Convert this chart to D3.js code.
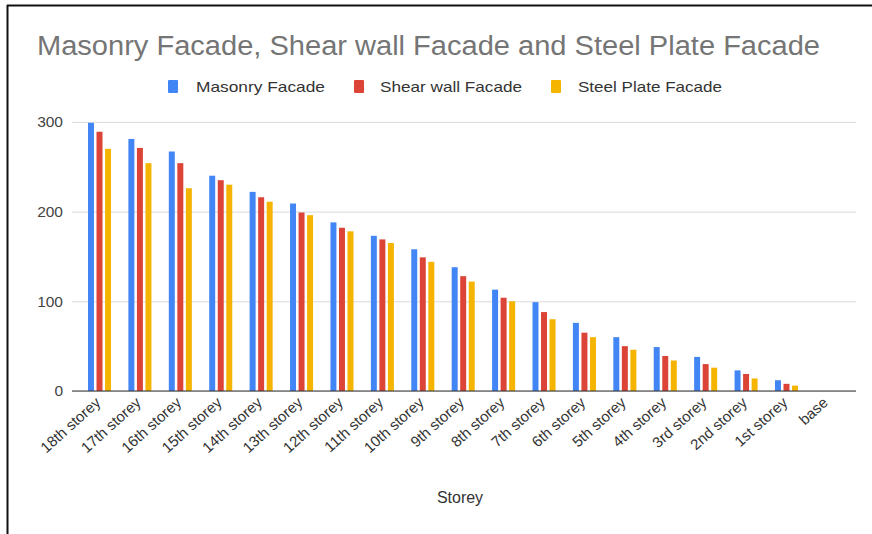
<!DOCTYPE html>
<html>
<head>
<meta charset="utf-8">
<script src="https://cdn.jsdelivr.net/npm/d3@7"></script>
<style>
  html, body { margin: 0; padding: 0; background: #fff; }
  svg { display: block; font-family: "Liberation Sans", Arial, sans-serif; }
</style>
</head>
<body>
<script>
// Storey labels, top floor first
const categories = ["18th storey","17th storey","16th storey","15th storey","14th storey","13th storey",
  "12th storey","11th storey","10th storey","9th storey","8th storey","7th storey","6th storey",
  "5th storey","4th storey","3rd storey","2nd storey","1st storey","base"];

const seriesNames = ["Masonry Facade", "Shear wall Facade", "Steel Plate Facade"];
const seriesColors = ["#4285F4", "#DB4437", "#F4B400"];

const masonry   = [299, 281, 267, 240, 222, 209, 188, 173, 158, 138, 113, 99, 76, 60, 49, 38, 23, 12, 0];
const shearWall = [289, 271, 254, 235, 216, 199, 182, 169, 149, 128, 104, 88, 65, 50, 39, 30, 19, 8, 0];
const steelPlate= [270, 254, 226, 230, 211, 196, 178, 165, 144, 122, 100, 80, 60, 46, 34, 26, 14, 6, 0];

const yTicks = [0, 100, 200, 300];

const FONT = "'Liberation Sans', Arial, sans-serif";
const W = 872, H = 534;
const svg = d3.select("body").append("svg").attr("width", W).attr("height", H);

// outer frame (top and left edges)
svg.append("line").attr("x1", 7).attr("x2", W).attr("y1", 5.5).attr("y2", 5.5)
  .attr("stroke", "#111").attr("stroke-width", 2);
svg.append("line").attr("x1", 7.5).attr("x2", 7.5).attr("y1", 5).attr("y2", H)
  .attr("stroke", "#111").attr("stroke-width", 2);

// title
svg.append("text").attr("x", 37).attr("y", 55)
  .attr("fill", "#757575").attr("font-size", 27)
  .attr("textLength", 783).attr("lengthAdjust", "spacingAndGlyphs")
  .text("Masonry Facade, Shear wall Facade and Steel Plate Facade");

// legend
const legendItems = [
  { x: 168, tx: 196, tl: 129 },
  { x: 354, tx: 380, tl: 142 },
  { x: 551, tx: 578, tl: 144 }
];
legendItems.forEach((d, i) => {
  svg.append("rect").attr("x", d.x).attr("y", 80).attr("width", 10).attr("height", 13)
    .attr("rx", 1).attr("fill", seriesColors[i]);
  svg.append("text").attr("x", d.tx).attr("y", 92).attr("font-size", 15)
    .attr("textLength", d.tl).attr("lengthAdjust", "spacingAndGlyphs")
    .attr("fill", "#333").text(seriesNames[i]);
});

// scales
const plotLeft = 72, plotRight = 856;
const y = d3.scaleLinear().domain([0, 300]).range([391, 121.9]);
const x = d3.scaleBand().domain(categories).range([79.3, 847.1])
  .paddingInner(0.43).paddingOuter(0.215);
const xSub = d3.scaleBand().domain(d3.range(3)).range([0, x.bandwidth()]).paddingInner(0.3);

// grid lines
const yAxis = d3.axisLeft(y).tickValues(yTicks).tickSize(-(plotRight - plotLeft)).tickPadding(9);
const gy = svg.append("g").attr("transform", `translate(${plotLeft},0)`).call(yAxis);
gy.select(".domain").remove();
gy.selectAll(".tick line").attr("stroke", "#d9d9d9");
gy.selectAll(".tick text").attr("fill", "#444").attr("font-size", 15.5)
  .attr("font-family", FONT);

// bars
const data = categories.map((c, i) => ({ c, v: [masonry[i], shearWall[i], steelPlate[i]] }));
const groups = svg.append("g").selectAll("g").data(data).join("g")
  .attr("transform", d => `translate(${x(d.c)},0)`);
groups.selectAll("rect").data(d => d.v.map((v, k) => ({ v, k }))).join("rect")
  .attr("x", d => xSub(d.k))
  .attr("width", xSub.bandwidth())
  .attr("y", d => y(d.v))
  .attr("height", d => y(0) - y(d.v))
  .attr("fill", d => seriesColors[d.k]);

// baseline
svg.append("line").attr("x1", plotLeft).attr("x2", plotRight)
  .attr("y1", y(0)).attr("y2", y(0)).attr("stroke", "#333").attr("stroke-width", 1.2);

// x axis labels, slanted
const xAxis = d3.axisBottom(x).tickSize(0).tickPadding(0);
const gx = svg.append("g").attr("transform", `translate(0,${y(0)})`).call(xAxis);
gx.select(".domain").remove();
gx.selectAll(".tick text")
  .attr("font-size", 15).attr("fill", "#333")
  .attr("font-family", FONT)
  .attr("text-anchor", "end")
  .attr("y", 0)
  .attr("dy", null)
  .attr("transform", "translate(2,13) rotate(-42)");

// axis title
svg.append("text").attr("x", 460).attr("y", 503).attr("text-anchor", "middle")
  .attr("font-size", 16).attr("fill", "#333").text("Storey");
</script>
</body>
</html>
